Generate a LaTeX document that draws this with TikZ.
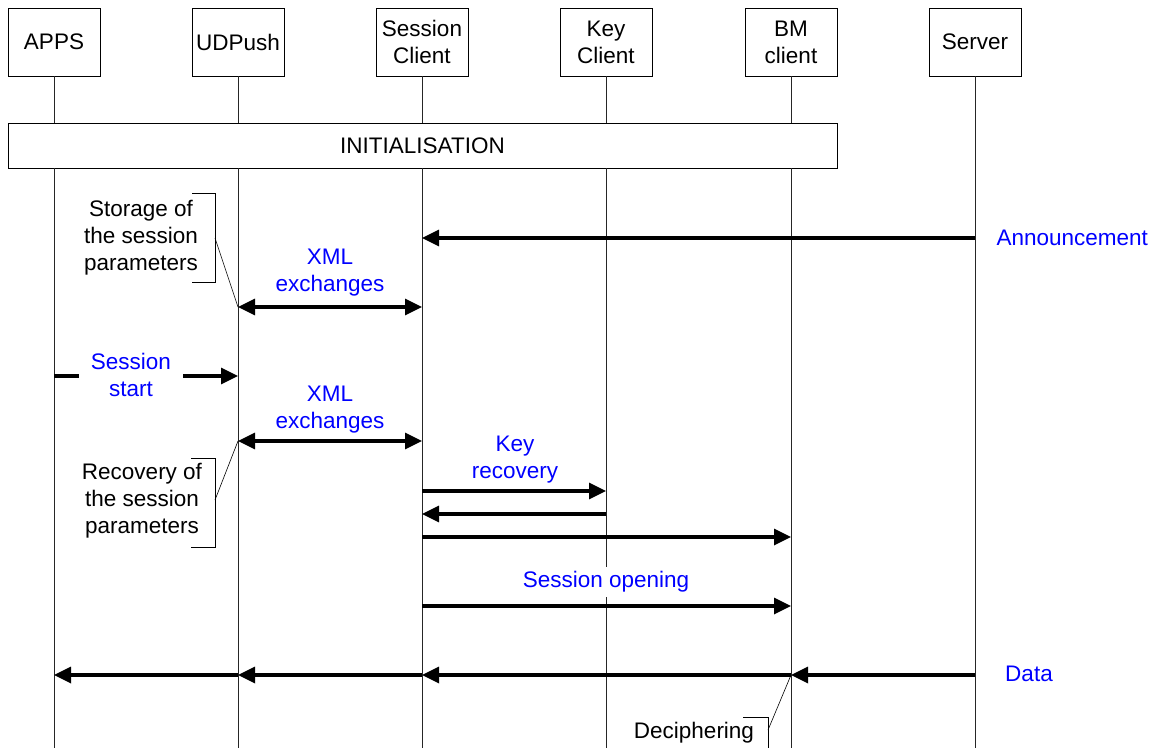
\documentclass[tikz,border=0pt]{standalone}
\usepackage{fontspec}
\setmainfont{Liberation Sans}
\usetikzlibrary{arrows.meta}
\definecolor{msgblue}{RGB}{0,0,255}
\tikzset{
  entity/.style={draw, line width=0.9pt, minimum width=92pt, minimum height=68pt, align=center, inner sep=0pt},
  lifeline/.style={line width=0.9pt, draw=black!85},
  msg/.style={line width=3.3pt, -{Triangle[length=17pt,width=16pt]}},
  dmsg/.style={line width=3.3pt, {Triangle[length=17pt,width=16pt]}-{Triangle[length=17pt,width=16pt]}},
  msglabel/.style={text=msgblue, align=center},
  note/.style={align=center},
  bracket/.style={line width=0.6pt},
}
\begin{document}
\begin{tikzpicture}[x=1pt,y=-1pt,font=\fontsize{22.5}{27}\selectfont]
\useasboundingbox (0,0) rectangle (1157,748);

% participants
\node[entity] (apps) at (54,42) {APPS};
\node[entity] (udp)  at (238,42) {UDPush};
\node[entity] (sc)   at (422,42) {Session\\Client};
\node[entity] (kc)   at (606,42) {Key\\Client};
\node[entity] (bm)   at (791,42) {BM\\client};
\node[entity] (srv)  at (975,42) {Server};

% initialisation phase
\node[draw, line width=0.9pt, minimum width=829pt, minimum height=45pt, inner sep=0pt] (init) at (422.5,145.5) {INITIALISATION};

% lifelines
\foreach \p in {apps,udp,sc,kc,bm}{
  \draw[lifeline] (\p.south) -- (\p.south |- init.north);
  \draw[lifeline] (\p.south |- init.south) -- (\p.south |- 0,748);
}
\draw[lifeline] (srv.south) -- (srv.south |- 0,748);

% message end points
\coordinate (srv-ann) at (975,238);  \coordinate (sc-ann) at (422,238);
\coordinate (udp-x1) at (238,307);   \coordinate (sc-x1) at (422,307);
\coordinate (apps-ss) at (54,376);   \coordinate (udp-ss) at (238,376);
\coordinate (udp-x2) at (238,441);   \coordinate (sc-x2) at (422,441);
\coordinate (sc-k1) at (422,491);    \coordinate (kc-k1) at (606,491);
\coordinate (sc-k2) at (422,514);    \coordinate (kc-k2) at (606,514);
\coordinate (sc-b1) at (422,537);    \coordinate (bm-b1) at (791,537);
\coordinate (sc-so) at (422,606);    \coordinate (bm-so) at (791,606);
\coordinate (srv-d) at (975,675);    \coordinate (bm-d) at (791,675);
\coordinate (sc-d) at (422,675);     \coordinate (udp-d) at (238,675);
\coordinate (apps-d) at (54,675);

% messages
\draw[msg] (srv-ann) -- (sc-ann);
\node[msglabel, anchor=west] (lann) at (993,238) {Announcement};

\draw[dmsg] (udp-x1) -- (sc-x1);
\node[msglabel] (lx1) at (330,273) {XML\\exchanges};

\draw[msg] (apps-ss) -- (udp-ss);
\node[msglabel, fill=white, inner xsep=12pt, inner ysep=2pt] (lss) at (131,375) {Session\\start};

\draw[dmsg] (udp-x2) -- (sc-x2);
\node[msglabel] (lx2) at (330,410) {XML\\exchanges};

\draw[msg] (sc-k1) -- (kc-k1);
\node[msglabel] (lkr) at (515,460) {Key\\recovery};
\draw[msg] (kc-k2) -- (sc-k2);
\draw[msg] (sc-b1) -- (bm-b1);

\node[msglabel, fill=white, inner xsep=1pt, inner ysep=5pt] (lso) at (606,582) {Session opening};
\draw[msg] (sc-so) -- (bm-so);

\draw[msg] (srv-d) -- (bm-d);
\draw[msg] (bm-d) -- (sc-d);
\draw[msg] (sc-d) -- (udp-d);
\draw[msg] (udp-d) -- (apps-d);
\node[msglabel] (ldata) at (1029,674) {Data};

% annotations
\node[note] (nst) at (141,238) {Storage of\\the session\\parameters};
\draw[bracket] (192,193) -- (215,193) -- (215,282) -- (192,282);
\coordinate (nst-tip) at (215,238);
\draw[bracket] (nst-tip) -- (udp-x1);

\node[note] (nrc) at (142,501) {Recovery of\\the session\\parameters};
\draw[bracket] (191,458) -- (215,458) -- (215,547) -- (191,547);
\coordinate (nrc-tip) at (215,500);
\draw[bracket] (nrc-tip) -- (udp-x2);

\node[note] (ndc) at (694,733) {Deciphering};
\draw[bracket] (743,717) -- (768,717) -- (768,748);
\coordinate (ndc-tip) at (768,730);
\draw[bracket] (ndc-tip) -- (bm-d);
\end{tikzpicture}
\end{document}
